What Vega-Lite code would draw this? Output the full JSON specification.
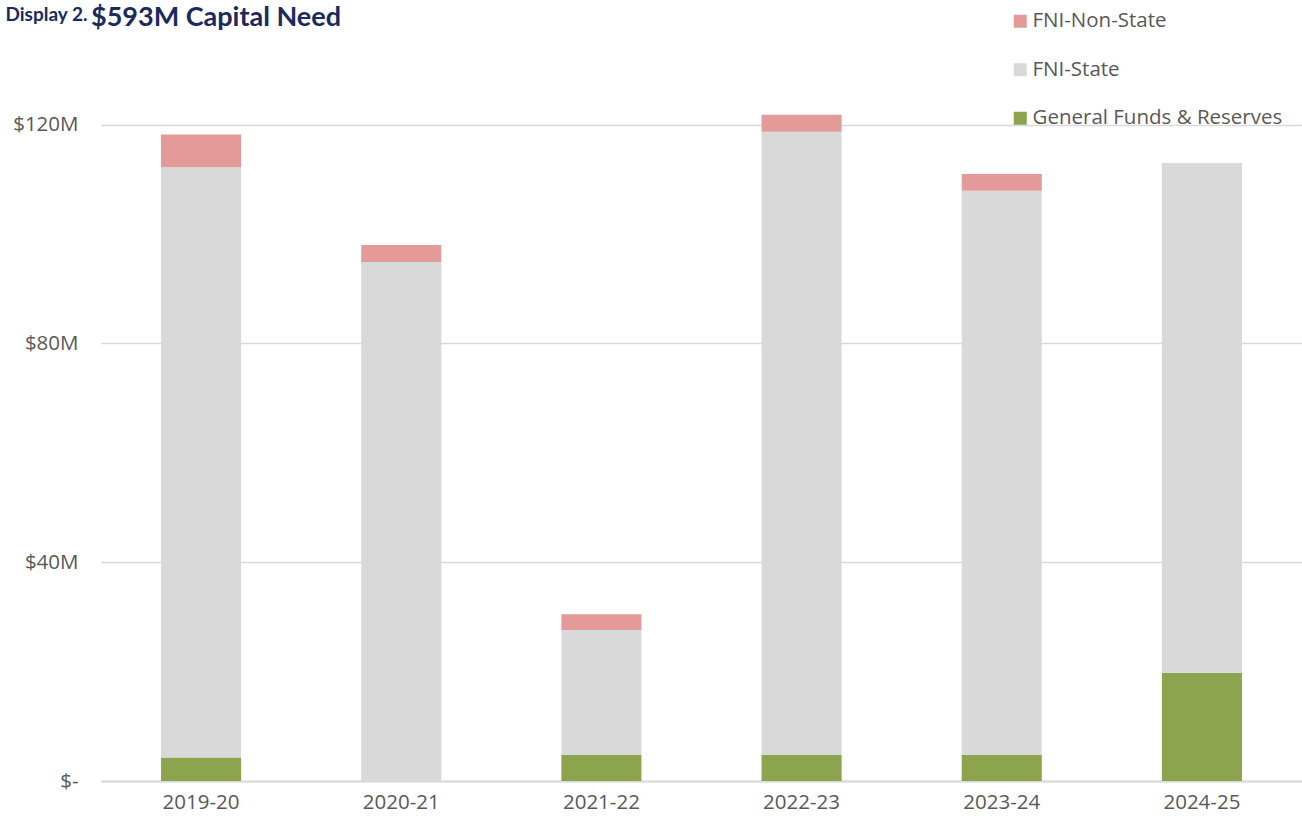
{
  "$schema": "https://vega.github.io/schema/vega-lite/v6.json",
  "width": 1201,
  "height": 711,
  "autosize": {"type": "none"},
  "padding": {"left": 101, "top": 70, "right": 0, "bottom": 46},
  "background": "white",
  "title": {
    "text": "$593M Capital Need",
    "anchor": "start",
    "frame": "group",
    "baseline": "alphabetic",
    "dx": -10,
    "dy": 48,
    "offset": 0,
    "font": "Lato",
    "fontSize": 27,
    "fontWeight": "bold",
    "color": "#1b2a5e"
  },
  "config": {
    "view": {"stroke": null},
    "font": "Open Sans"
  },
  "data": {
    "values": [
      {"year": "2019-20", "category": "General Funds & Reserves", "ord": 1, "value": 4.3},
      {"year": "2019-20", "category": "FNI-State", "ord": 2, "value": 107.9},
      {"year": "2019-20", "category": "FNI-Non-State", "ord": 3, "value": 6.0},
      {"year": "2020-21", "category": "FNI-State", "ord": 2, "value": 94.9},
      {"year": "2020-21", "category": "FNI-Non-State", "ord": 3, "value": 3.1},
      {"year": "2021-22", "category": "General Funds & Reserves", "ord": 1, "value": 4.8},
      {"year": "2021-22", "category": "FNI-State", "ord": 2, "value": 22.8},
      {"year": "2021-22", "category": "FNI-Non-State", "ord": 3, "value": 2.9},
      {"year": "2022-23", "category": "General Funds & Reserves", "ord": 1, "value": 4.8},
      {"year": "2022-23", "category": "FNI-State", "ord": 2, "value": 113.9},
      {"year": "2022-23", "category": "FNI-Non-State", "ord": 3, "value": 3.1},
      {"year": "2023-24", "category": "General Funds & Reserves", "ord": 1, "value": 4.8},
      {"year": "2023-24", "category": "FNI-State", "ord": 2, "value": 103.1},
      {"year": "2023-24", "category": "FNI-Non-State", "ord": 3, "value": 3.1},
      {"year": "2024-25", "category": "General Funds & Reserves", "ord": 1, "value": 19.8},
      {"year": "2024-25", "category": "FNI-State", "ord": 2, "value": 93.2}
    ]
  },
  "mark": {"type": "bar"},
  "encoding": {
    "x": {
      "field": "year",
      "type": "nominal",
      "scale": {"paddingInner": 0.6, "paddingOuter": 0.3},
      "axis": {
        "title": null,
        "labelAngle": 0,
        "labelFontSize": 20.5,
        "labelColor": "#595959",
        "labelPadding": 11,
        "ticks": false,
        "domainColor": "#d9d9d9",
        "domainWidth": 2
      }
    },
    "y": {
      "field": "value",
      "type": "quantitative",
      "stack": "zero",
      "scale": {"domain": [0, 130], "nice": false},
      "axis": {
        "values": [0, 40, 80, 120],
        "labelExpr": "datum.value == 0 ? '$-' : '$' + datum.value + 'M'",
        "labelFontSize": 20.5,
        "labelColor": "#595959",
        "labelPadding": 23,
        "ticks": false,
        "domain": false,
        "gridColor": "#d9d9d9",
        "gridWidth": 1.5,
        "title": "Display 2.",
        "titleAngle": 0,
        "titleAlign": "left",
        "titleBaseline": "alphabetic",
        "titleX": -96,
        "titleY": -50,
        "titleFont": "Lato",
        "titleFontSize": 19,
        "titleFontWeight": "bold",
        "titleColor": "#1b2a5e"
      }
    },
    "color": {
      "field": "category",
      "type": "nominal",
      "scale": {
        "domain": ["FNI-Non-State", "FNI-State", "General Funds & Reserves"],
        "range": ["#e39a98", "#d9d9d9", "#8ba44d"]
      },
      "legend": {
        "title": null,
        "orient": "none",
        "legendX": 909,
        "legendY": -59,
        "symbolType": "square",
        "symbolSize": 169,
        "symbolStrokeWidth": 0,
        "labelFontSize": 20.5,
        "labelColor": "#595959",
        "labelOffset": 2,
        "rowPadding": 27.5,
        "labelLimit": 400
      }
    },
    "order": {"field": "ord", "type": "quantitative"}
  }
}
